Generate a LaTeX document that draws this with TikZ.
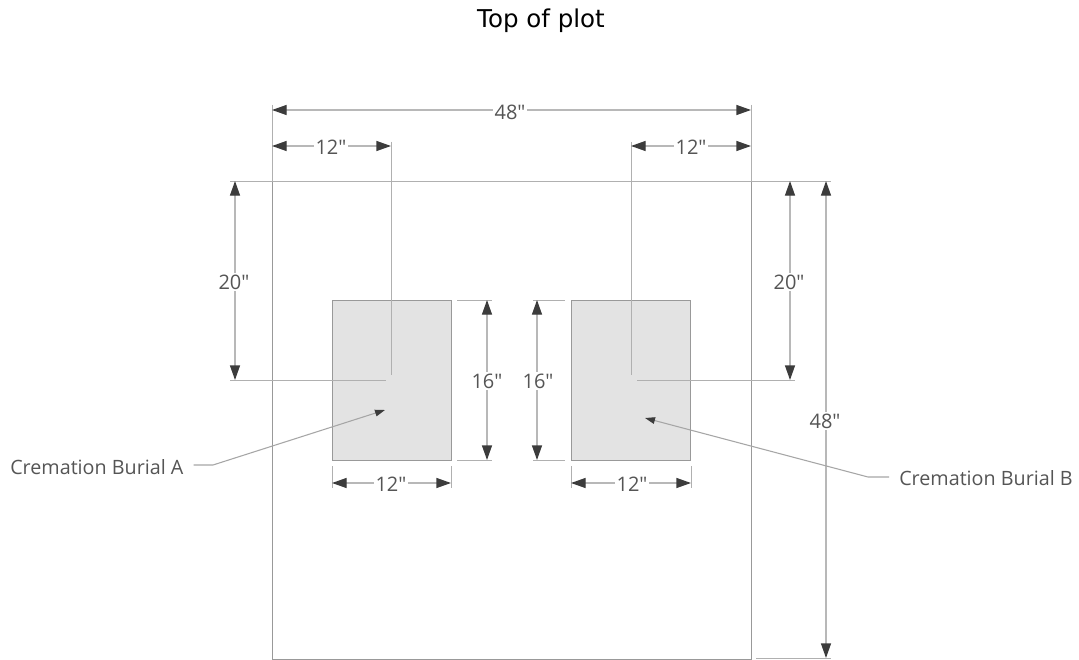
\documentclass[tikz,border=0pt]{standalone}
\usepackage{fontspec}
\setmainfont{Open Sans}[Ligatures=TeXOff]
\newfontfamily\titlefont{DejaVu Sans}
\usetikzlibrary{arrows.meta}
\definecolor{lab}{HTML}{555555}
\definecolor{tipc}{HTML}{3C3C3C}
\definecolor{dimc}{HTML}{B8B8B8}
\definecolor{extc}{HTML}{B0B0B0}
\definecolor{boxc}{HTML}{999999}
\tikzset{
  px/.style={x=0.75pt,y=-0.75pt},
  dimline/.style={draw=dimc,line width=1pt,{Triangle[length=11pt,width=7.5pt,color=tipc]}-{Triangle[length=11pt,width=7.5pt,color=tipc]}},
  extline/.style={draw=extc,line width=0.7pt},
  plotbox/.style={draw=boxc,line width=0.6pt,fill=white,inner sep=0pt,outer sep=0pt,anchor=north west,minimum width=359.25pt,minimum height=358.5pt},
  burial/.style={draw=boxc,line width=0.75pt,fill=black!11,inner sep=0pt,outer sep=0pt,anchor=north west,minimum width=89.6pt,minimum height=120pt},
  dimlabel/.style={font=\fontsize{15}{18}\selectfont,text=lab,fill=white,inner sep=1.5pt},
  calllabel/.style={font=\fontsize{14.8}{18}\selectfont,text=lab,inner sep=0pt},
  leader/.style={draw=dimc!90!black,line width=0.8pt,-{Triangle[length=7.5pt,width=5pt,color=tipc]}},
  titlelabel/.style={font=\titlefont\fontsize{18.4}{22}\selectfont,text=black,inner sep=0pt}
}
\begin{document}
\begin{tikzpicture}[px]
\useasboundingbox (0,0) rectangle (1079,660);
\fill[white] (0,0) rectangle (1079,660);
\node[titlelabel] (title) at (541,21) {Top of plot};
\node[plotbox] (plot) at (272,181) {};
\node[burial] (A) at (332,300) {};
\node[burial] (B) at (571,300) {};
% extension-line end points
\coordinate (tl) at (230,181); \coordinate (tr) at (831,181);
\coordinate (br1) at (756,658); \coordinate (br2) at (831,658);
\coordinate (v1a) at (272,105); \coordinate (v1b) at (272,181);
\coordinate (v2a) at (751,105); \coordinate (v2b) at (751,181);
\coordinate (v3a) at (391,142); \coordinate (v3b) at (391,375);
\coordinate (v4a) at (631,142); \coordinate (v4b) at (631,375);
\coordinate (h1a) at (230,380); \coordinate (h1b) at (386,380);
\coordinate (h2a) at (637,380); \coordinate (h2b) at (795,380);
\coordinate (e1a) at (457,300); \coordinate (e1b) at (492,300);
\coordinate (e2a) at (457,460); \coordinate (e2b) at (492,460);
\coordinate (e3a) at (533,300); \coordinate (e3b) at (565,300);
\coordinate (e4a) at (533,460); \coordinate (e4b) at (565,460);
\coordinate (f1a) at (332,466); \coordinate (f1b) at (332,488);
\coordinate (f2a) at (451,466); \coordinate (f2b) at (451,488);
\coordinate (f3a) at (571,466); \coordinate (f3b) at (571,488);
\coordinate (f4a) at (691,466); \coordinate (f4b) at (691,488);
\foreach \p/\q in {tl/tr,br1/br2,v1a/v1b,v2a/v2b,v3a/v3b,v4a/v4b,h1a/h1b,h2a/h2b,e1a/e1b,e2a/e2b,e3a/e3b,e4a/e4b,f1a/f1b,f2a/f2b,f3a/f3b,f4a/f4b}
  \draw[extline] (\p) -- (\q);
% dimension ends
\coordinate (d48a) at (272,110); \coordinate (d48b) at (751,110);
\coordinate (d12a) at (272,146); \coordinate (d12b) at (391,146);
\coordinate (d12c) at (631,146); \coordinate (d12d) at (751,146);
\coordinate (d20a) at (235,181); \coordinate (d20b) at (235,380);
\coordinate (d20c) at (790,181); \coordinate (d20d) at (790,380);
\coordinate (d48c) at (826,181); \coordinate (d48d) at (826,658);
\coordinate (d16a) at (487,300); \coordinate (d16b) at (487,460);
\coordinate (d16c) at (537,300); \coordinate (d16d) at (537,460);
\coordinate (d12e) at (332,483); \coordinate (d12f) at (451,483);
\coordinate (d12g) at (571,483); \coordinate (d12h) at (691,483);
\foreach \p/\q in {d48a/d48b,d12a/d12b,d12c/d12d,d20a/d20b,d20c/d20d,d48c/d48d,d16a/d16b,d16c/d16d,d12e/d12f,d12g/d12h}
  \draw[dimline] (\p) -- (\q);
\node[dimlabel] (l1) at (510,112) {48"};
\node[dimlabel] (l2) at (331,147) {12"};
\node[dimlabel] (l3) at (691,147) {12"};
\node[dimlabel] (l4) at (234,282) {20"};
\node[dimlabel] (l5) at (789,282) {20"};
\node[dimlabel] (l6) at (825,421) {48"};
\node[dimlabel] (l7) at (487,381) {16"};
\node[dimlabel] (l8) at (538,381) {16"};
\node[dimlabel] (l9) at (391,484) {12"};
\node[dimlabel] (l10) at (632,484) {12"};
% callouts
\node[calllabel,anchor=west] (ca) at (10,467) {Cremation Burial A};
\node[calllabel,anchor=west] (cb) at (899,478) {Cremation Burial B};
\coordinate (ta) at (385,410); \coordinate (tb) at (645,418);
\coordinate (ka) at (213,465); \coordinate (kb) at (868,477);
\draw[leader] ([xshift=10*0.75pt,yshift=1.5pt]ca.east) -- (ka) -- (ta);
\draw[leader] ([xshift=-10*0.75pt,yshift=0.75pt]cb.west) -- (kb) -- (tb);
\end{tikzpicture}
\end{document}
